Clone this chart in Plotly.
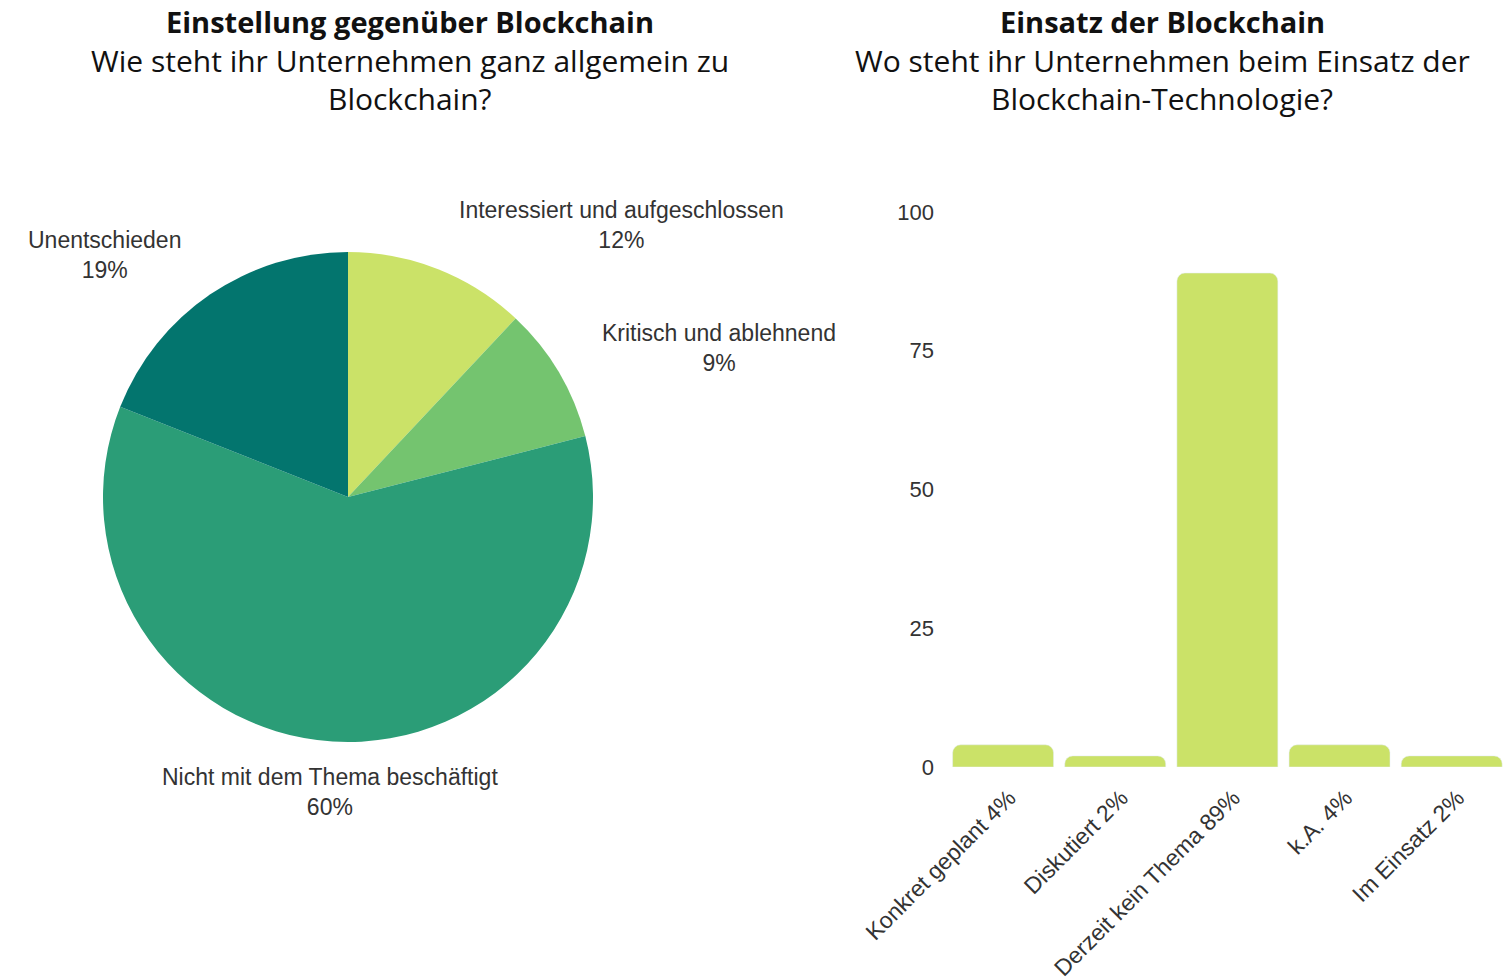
import plotly.graph_objects as go

# ---- data ----
pie_labels = ["Interessiert und aufgeschlossen", "Kritisch und ablehnend",
              "Nicht mit dem Thema beschäftigt", "Unentschieden"]
pie_values = [12, 9, 60, 19]
pie_colors = ["#cbe268", "#74c46f", "#2b9d77", "#03756e"]

bar_categories = ["Konkret geplant 4%", "Diskutiert 2%", "Derzeit kein Thema 89%",
                  "k.A. 4%", "Im Einsatz 2%"]
bar_values = [4, 2, 89, 4, 2]
bar_color = "#cbe268"
y_ticks = [0, 25, 50, 75, 100]

W, H = 1510, 977
LABEL_FONT = "Liberation Sans, Arial, sans-serif"
TITLE_FONT = "Open Sans, Noto Sans, sans-serif"
TXT = "#333333"

def px(x):
    return x / W

def py(y):
    return 1 - y / H

fig = go.Figure()

fig.add_trace(go.Pie(
    labels=pie_labels, values=pie_values, sort=False, direction="clockwise",
    rotation=0, marker=dict(colors=pie_colors, line=dict(width=0)),
    textinfo="none", hoverinfo="label+percent", showlegend=False,
    domain=dict(x=[px(103), px(593)], y=[py(742), py(252)]),
))

fig.add_trace(go.Bar(
    x=bar_categories, y=bar_values, marker=dict(color=bar_color, cornerradius=8),
    showlegend=False, xaxis="x", yaxis="y",
))

# pie labels (label + percent on two lines)
label_pos = [(621, 225), (719, 348), (330, 792), (105, 255)]
annotations = []
for lab, val, (x, y) in zip(pie_labels, pie_values, label_pos):
    annotations.append(dict(
        x=px(x), y=py(y), xref="paper", yref="paper", xanchor="center", yanchor="middle",
        text=f"{lab}<br>{val}%", showarrow=False,
        font=dict(family=LABEL_FONT, size=23, color=TXT), align="center",
    ))

titles = [
    (410, "<b>Einstellung gegenüber Blockchain</b>", "Wie steht ihr Unternehmen ganz allgemein zu", "Blockchain?"),
    (1162, "<b>Einsatz der Blockchain</b>", "Wo steht ihr Unternehmen beim Einsatz der", "Blockchain-Technologie?"),
]
for cx, l1, l2, l3 in titles:
    for i, (text, y) in enumerate(((l1, 22), (l2, 61), (l3, 99))):
        annotations.append(dict(
            x=px(cx), y=py(y), xref="paper", yref="paper", xanchor="center", yanchor="middle",
            text=text, showarrow=False,
            font=dict(family=TITLE_FONT, size=29 if i == 0 else 30, color="#111111"),
        ))

fig.update_layout(
    width=W, height=H, margin=dict(l=0, r=0, t=0, b=0, autoexpand=False),
    paper_bgcolor="white", plot_bgcolor="white",
    bargap=0.1,
    xaxis=dict(domain=[px(947), 1.0], range=[-0.5, 4.52], tickangle=-45,
               showgrid=False, zeroline=False, showline=False, ticks="",
               automargin=False, ticklabelstandoff=12, ticklabelshift=6,
               tickfont=dict(family=LABEL_FONT, size=23, color=TXT), fixedrange=True),
    yaxis=dict(domain=[py(767), py(212)], range=[0, 100], tickvals=y_ticks,
               showgrid=False, zeroline=False, showline=False, ticks="",
               ticklabelstandoff=12, automargin=False,
               tickfont=dict(family=LABEL_FONT, size=22, color=TXT), fixedrange=True),
    annotations=annotations,
)

fig.write_html("out.html")
